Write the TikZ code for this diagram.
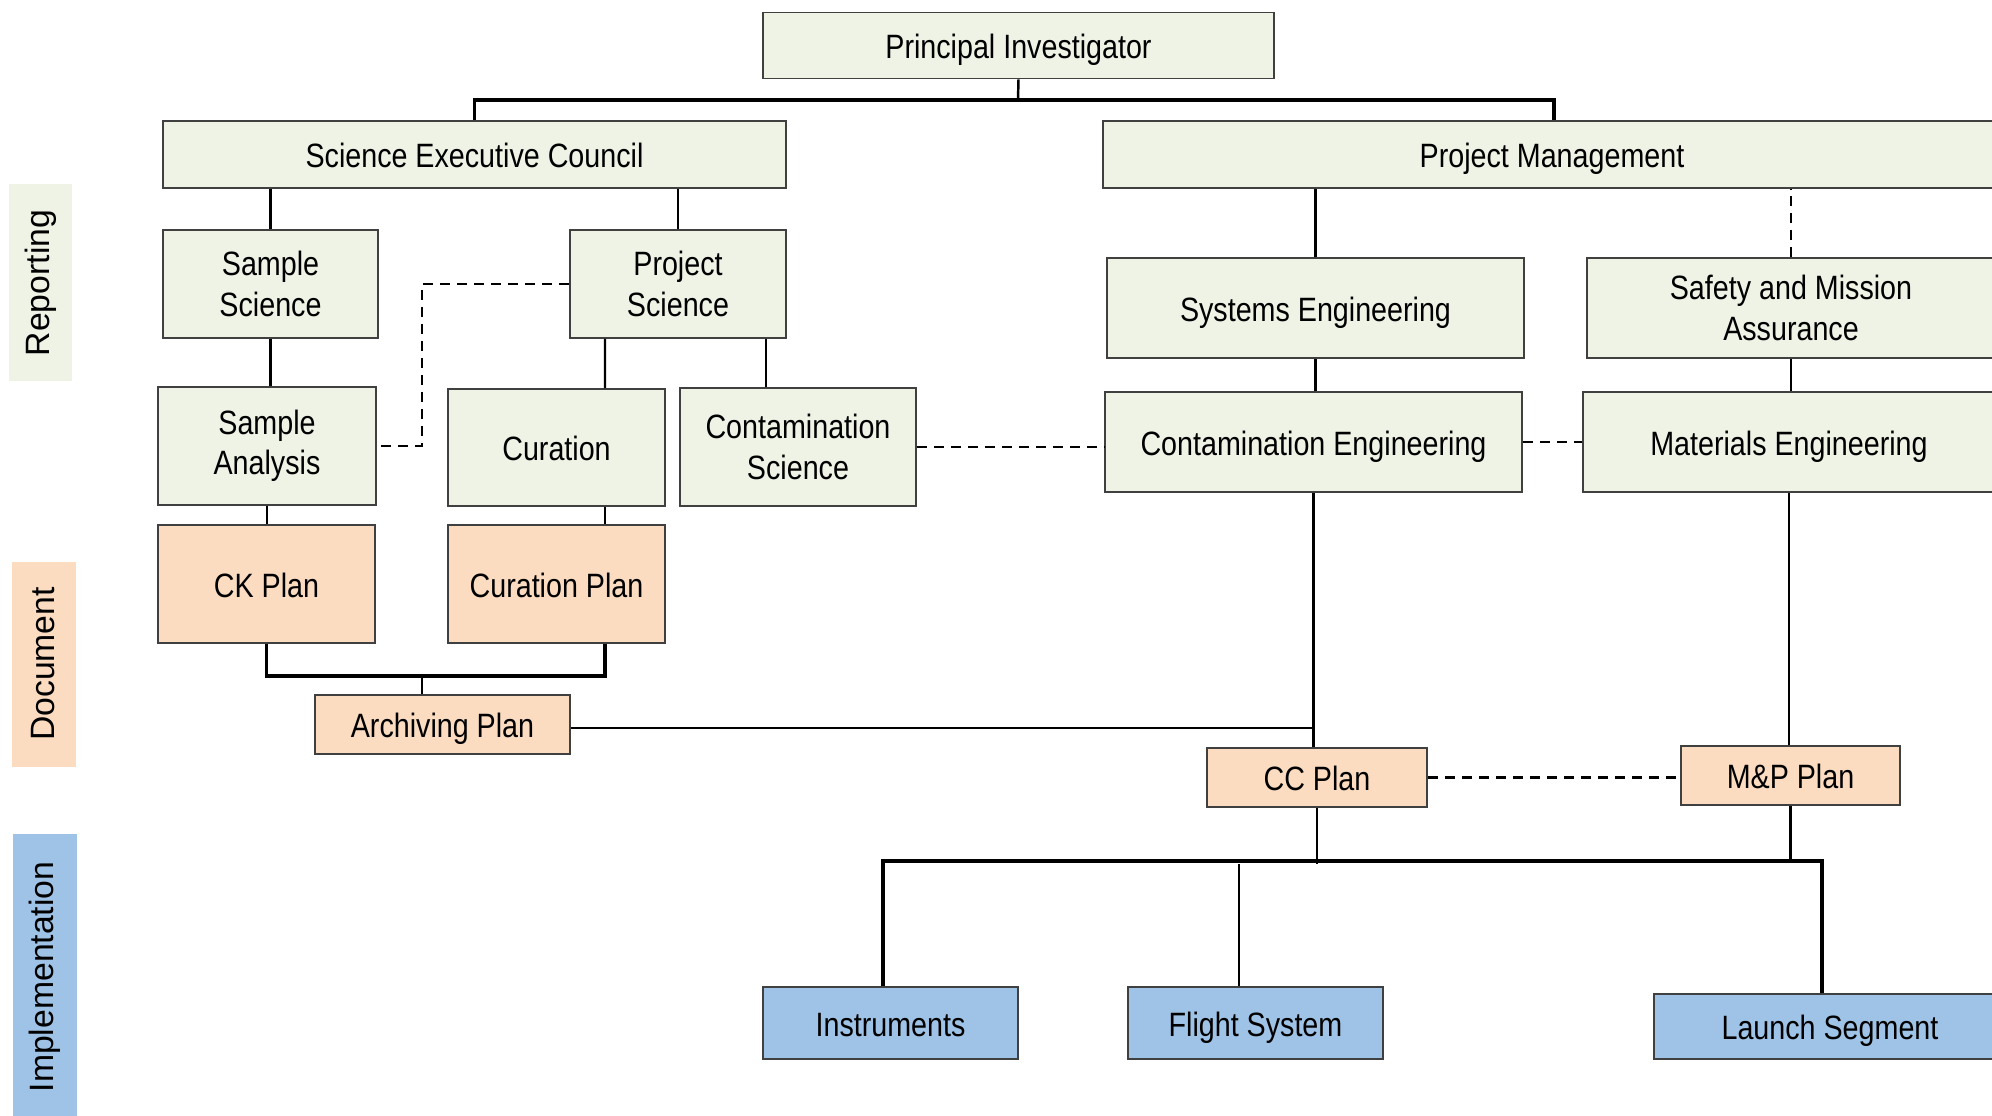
\documentclass[tikz,border=0pt]{standalone}
\usepackage{fontspec}
\setmainfont{Liberation Sans}
\newfontfamily\narrowfont[FakeStretch=0.85]{Liberation Sans}
\usetikzlibrary{positioning,calc}

\definecolor{repgreen}{RGB}{239,243,229}
\definecolor{docpeach}{RGB}{251,220,193}
\definecolor{implblue}{RGB}{158,195,230}

\begin{document}
\begin{tikzpicture}[x=0.1mm,y=-0.1mm,
    box/.style={draw=black!75, line width=0.45pt, rectangle, align=center, inner sep=1pt,
        font=\narrowfont\fontsize{9.6}{11.5}\selectfont},
    oneline/.style={text height=2.9mm, text depth=0.3mm},
    rep/.style={box, fill=repgreen},
    doc/.style={box, oneline, fill=docpeach},
    impl/.style={box, oneline, fill=implblue},
    bandtext/.style={rotate=90, font=\fontsize{9.6}{11.5}\selectfont},
    link/.style={line width=0.7pt},
    bus/.style={line width=1pt},
    dashlink/.style={line width=0.6pt, dash pattern=on 1mm off 0.7mm}]
    \useasboundingbox (0,0) rectangle (1992,1116);
    \fill[white] (0,0) rectangle (1992,1116);

    % side bands
    \fill[repgreen] (9,184) rectangle (72,381);
    \node[bandtext] (lrep) at (41,283) {Reporting};
    \fill[docpeach] (12,562) rectangle (76,767);
    \node[bandtext] (ldoc) at (43,664) {Document};
    \fill[implblue] (13,834) rectangle (77,1116);
    \node[bandtext] (limpl) at (45,977) {Implementation};

    % reporting boxes
    \node[rep, oneline, minimum width=51.1mm, minimum height=6.6mm] (pi) at (1018.5,45.5) {Principal Investigator};
    \node[rep, oneline, minimum width=62.3mm, minimum height=6.7mm] (sec) at (474.5,154.5) {Science Executive Council};
    \node[rep, oneline, minimum width=89.8mm, minimum height=6.7mm] (pm) at (1552,154.5) {Project Management};
    \node[rep, minimum width=21.5mm, minimum height=10.8mm] (samsci) at (270.5,284) {Sample\\Science};
    \node[rep, minimum width=21.6mm, minimum height=10.8mm] (prjsci) at (678,284) {Project\\Science};
    \node[rep, oneline, minimum width=41.7mm, minimum height=10mm] (syseng) at (1315.5,308) {Systems Engineering};
    \node[rep, minimum width=40.8mm, minimum height=10mm] (sma) at (1791,308) {Safety and Mission\\Assurance};
    \node[rep, minimum width=21.8mm, minimum height=11.8mm] (samana) at (267,446) {Sample\\Analysis};
    \node[rep, oneline, minimum width=21.7mm, minimum height=11.7mm] (cur) at (556.5,447.5) {Curation};
    \node[rep, minimum width=23.6mm, minimum height=11.8mm] (consci) at (798,447) {Contamination\\Science};
    \node[rep, oneline, minimum width=41.7mm, minimum height=10mm] (coneng) at (1313.5,442) {Contamination Engineering};
    \node[rep, oneline, minimum width=41.2mm, minimum height=10mm] (mateng) at (1789,442) {Materials Engineering};

    % document boxes
    \node[doc, minimum width=21.7mm, minimum height=11.8mm] (ckplan) at (266.5,584) {CK Plan};
    \node[doc, minimum width=21.7mm, minimum height=11.8mm] (curplan) at (556.5,584) {Curation Plan};
    \node[doc, minimum width=25.5mm, minimum height=5.9mm] (arch) at (442.5,724.5) {Archiving Plan};
    \node[doc, minimum width=22mm, minimum height=5.9mm] (ccplan) at (1317,777.5) {CC Plan};
    \node[doc, minimum width=21.9mm, minimum height=5.9mm] (mpplan) at (1790.5,775.5) {M\&P Plan};

    % implementation boxes
    \node[impl, minimum width=25.5mm, minimum height=7.2mm] (instr) at (890.5,1023) {Instruments};
    \node[impl, minimum width=25.5mm, minimum height=7.2mm] (flight) at (1255.5,1023) {Flight System};
    \node[impl, minimum width=35.2mm, minimum height=6.5mm] (launch) at (1830,1026.5) {Launch Segment};

    % bus points
    \coordinate (pibus) at (1018,100);
    \coordinate (sabend) at (422,446);
    \coordinate (docbus) at (422,676);
    \coordinate (implbus) at (1315,861);

    % connectors
    \draw[link] (pi.south) -- (pibus);
    \draw[bus] (sec.north) |- (pibus) -| ([xshift=0.2mm]pm.north);
    \draw[link] (samsci.north) -- (samsci.north |- sec.south);
    \draw[link] (prjsci.north) -- (prjsci.north |- sec.south);
    \draw[link] (samsci.south) -- (samsci.south |- samana.north);
    \draw[link] ([xshift=-7.3mm]prjsci.south) -- ([xshift=4.85mm]cur.north);
    \draw[link] ([xshift=8.8mm]prjsci.south) -- ([xshift=8.8mm]prjsci.south |- consci.north);
    \draw[dashlink] (prjsci.west) -| (sabend) -- (samana.east);
    \draw[dashlink] (consci.east) -- (consci.east -| coneng.west);
    \draw[dashlink] (coneng.east) -- (mateng.west);
    \draw[link] (syseng.north) -- (syseng.north |- pm.south);
    \draw[dashlink] (sma.north) -- (sma.north |- pm.south);
    \draw[link] (syseng.south) -- (syseng.south |- coneng.north);
    \draw[link] (sma.south) -- (sma.south |- mateng.north);
    \draw[link] (samana.south) -- (samana.south |- ckplan.north);
    \draw[link] ([xshift=4.85mm]cur.south) -- ([xshift=4.85mm]curplan.north);
    \draw[bus] (ckplan.south) |- (docbus) -| ([xshift=4.85mm]curplan.south);
    \draw[link] (docbus) -- (docbus |- arch.north);
    \draw[link] (coneng.south) -- (coneng.south |- ccplan.north);
    \draw[link] ([yshift=-0.35mm]arch.east) -- ([yshift=-0.35mm]arch.east -| coneng.south);
    \draw[link] (mateng.south) -- (mateng.south |- mpplan.north);
    \draw[dashlink] (ccplan.east) -- (ccplan.east -| mpplan.west);
    \draw[link] (ccplan.south) -- ++(0,56);
    \draw[link] (mpplan.south) -- (mpplan.south |- implbus);
    \draw[bus] ([xshift=-0.75mm]instr.north) |- (implbus) -| ([xshift=-0.8mm]launch.north);
    \draw[link] ([xshift=-1.65mm]flight.north) -- ++(0,-122);
\end{tikzpicture}
\end{document}
